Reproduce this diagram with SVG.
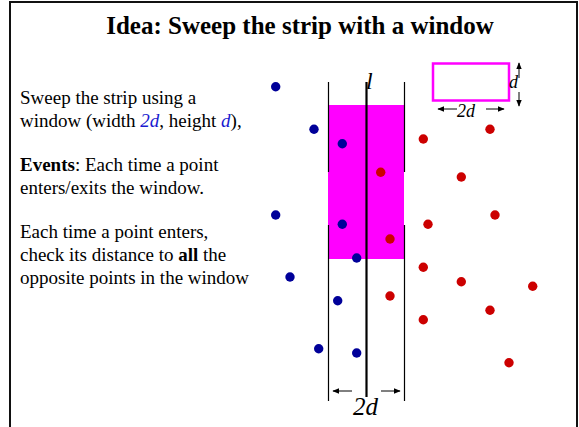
<svg xmlns="http://www.w3.org/2000/svg" width="579" height="427" viewBox="0 0 579 427">
<defs>
<marker id="ah" viewBox="0 0 10 10" refX="9" refY="5" markerWidth="7" markerHeight="7" markerUnits="userSpaceOnUse" orient="auto-start-reverse">
<path d="M0,1 L10,5 L0,9 z" fill="#000"/>
</marker>
<style>
.t{font-family:"Liberation Serif","Times New Roman",serif;fill:#000}
.body{font-size:19px}
.b{font-weight:bold}
.i{font-style:italic}
.blu{fill:#1a1ad0;font-style:italic}
.ln{stroke:#000;stroke-width:1.2;fill:none}
.ar{stroke:#000;stroke-width:1;fill:none;marker-end:url(#ah)}
.blue{fill:#000099}
.red{fill:#cc0000}
</style>
</defs>
<rect width="579" height="427" fill="#fff"/>
<path d="M10,430 V2 H577 V430" fill="none" stroke="#111" stroke-width="2"/>
<text class="t b" x="300" y="34" font-size="25" text-anchor="middle">Idea: Sweep the strip with a window</text>
<g id="desc" class="t body">
<text x="20" y="104">Sweep the strip using a</text>
<text x="20" y="127">window (width <tspan class="blu">2d</tspan>, height <tspan class="blu">d</tspan>),</text>
<text x="20" y="171"><tspan class="b">Events</tspan>: Each time a point</text>
<text x="20" y="194">enters/exits the window.</text>
<text x="20" y="238">Each time a point enters,</text>
<text x="20" y="261">check its distance to <tspan class="b">all</tspan> the</text>
<text x="20" y="284">opposite points in the window</text>
</g>
<g id="window-sweep">
<rect x="328" y="105" width="76" height="154" fill="#ff00ff"/>
</g>
<g id="strip">
<path class="ln" d="M328.5,82 V172 M328.5,225 V401 M404.5,82 V172 M404.5,225 V401"/>
<path d="M366.5,82 V397" stroke="#000" stroke-width="2.2"/>
<text class="t i" x="366" y="89" font-size="24">l</text>
</g>
<g id="connectors">
<path class="ar" d="M352,391 H333"/>
<path class="ar" d="M381,391 H400"/>
<path class="ar" d="M457,109 H438"/>
<path class="ar" d="M486,109 H504"/>
<path class="ar" d="M519,78 V63"/>
<path class="ar" d="M519,92 V106"/>
</g>
<g id="strip-width-label">
<text class="t i" x="353" y="415" font-size="25">2d</text>
</g>
<g id="window-legend">
<rect x="433" y="63.5" width="76" height="37" fill="none" stroke="#ff00ff" stroke-width="2.5"/>
<text class="t i" x="509" y="88" font-size="18">d</text>
<text class="t i" x="457" y="117" font-size="18">2d</text>
</g>
<g id="blue-points" class="blue">
<circle cx="275.7" cy="86.7" r="4.7"/>
<circle cx="314" cy="129.3" r="4.7"/>
<circle cx="342.3" cy="143.7" r="4.7"/>
<circle cx="275.7" cy="215" r="4.7"/>
<circle cx="342.3" cy="224.3" r="4.7"/>
<circle cx="356.7" cy="258" r="4.7"/>
<circle cx="290" cy="277" r="4.7"/>
<circle cx="337.7" cy="300.7" r="4.7"/>
<circle cx="318.7" cy="348.7" r="4.7"/>
<circle cx="356.7" cy="353" r="4.7"/>
</g>
<g id="red-points" class="red">
<circle cx="423.3" cy="139" r="4.7"/>
<circle cx="490" cy="129.3" r="4.7"/>
<circle cx="380.7" cy="172.3" r="4.7"/>
<circle cx="461.3" cy="177" r="4.7"/>
<circle cx="495" cy="215" r="4.7"/>
<circle cx="428" cy="224.3" r="4.7"/>
<circle cx="390" cy="239" r="4.7"/>
<circle cx="423.3" cy="267.3" r="4.7"/>
<circle cx="461.3" cy="281.7" r="4.7"/>
<circle cx="532.7" cy="286.3" r="4.7"/>
<circle cx="390" cy="296" r="4.7"/>
<circle cx="490" cy="310.3" r="4.7"/>
<circle cx="423.3" cy="319.7" r="4.7"/>
<circle cx="509" cy="362.7" r="4.7"/>
</g>
</svg>
